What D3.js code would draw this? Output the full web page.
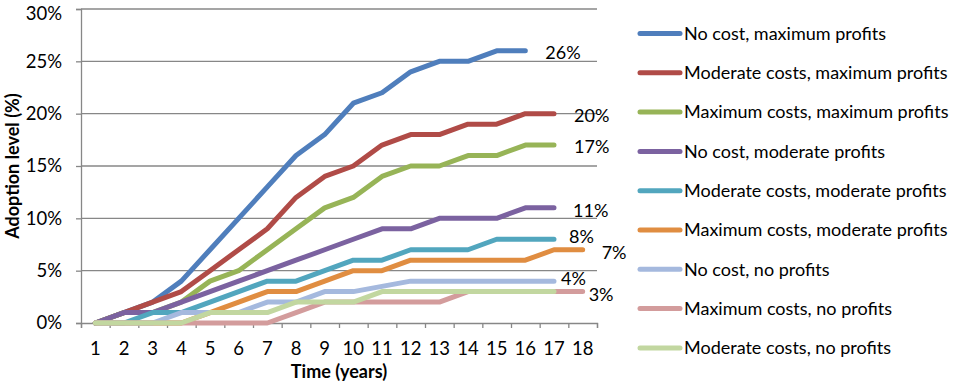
<!DOCTYPE html>
<html>
<head>
<meta charset="utf-8">
<script src="https://cdn.jsdelivr.net/npm/d3@7"></script>
<style>
  html, body { margin: 0; padding: 0; background: #fff; }
  svg { display: block; }
  text { font-family: Lato, "Noto Sans", sans-serif; fill: #000; }
</style>
</head>
<body>
<div id="chart"></div>
<script>
// ---------- data ----------
const years = [1,2,3,4,5,6,7,8,9,10,11,12,13,14,15,16,17,18];
const yTicks = [0, 5, 10, 15, 20, 25, 30];

const seriesNames = [
  "No cost, maximum profits",
  "Moderate costs, maximum profits",
  "Maximum costs, maximum profits",
  "No cost, moderate profits",
  "Moderate costs, moderate profits",
  "Maximum costs, moderate profits",
  "No cost, no profits",
  "Maximum costs, no profits",
  "Moderate costs, no profits"
];

const noCostMaxProfits      = [0,1,2,4,7,10,13,16,18,21,22,24,25,25,26,26];
const modCostMaxProfits     = [0,1,2,3,5,7,9,12,14,15,17,18,18,19,19,20,20];
const maxCostMaxProfits     = [0,1,1,2,4,5,7,9,11,12,14,15,15,16,16,17,17];
const noCostModProfits      = [0,1,1,2,3,4,5,6,7,8,9,9,10,10,10,11,11];
const modCostModProfits     = [0,0,1,1,2,3,4,4,5,6,6,7,7,7,8,8,8];
const maxCostModProfits     = [0,0,0,0,1,2,3,3,4,5,5,6,6,6,6,6,7,7];
const noCostNoProfits       = [0,0,0,1,1,1,2,2,3,3,3.5,4,4,4,4,4,4];
const maxCostNoProfits      = [0,0,0,0,0,0,0,1,2,2,2,2,2,3,3,3,3,3];
const modCostNoProfits      = [0,0,0,0,1,1,1,2,2,2,3,3,3,3,3,3,3];

const seriesValues = [
  noCostMaxProfits, modCostMaxProfits, maxCostMaxProfits,
  noCostModProfits, modCostModProfits, maxCostModProfits,
  noCostNoProfits, maxCostNoProfits, modCostNoProfits
];

const endLabels = ["26%","20%","17%","11%","8%","7%","4%","3%",null];

const colors = ["#4F7EBC","#B04B47","#97B457","#7B62A0","#52A6BE","#E08D41","#A5B9DE","#D39C9C","#C2D7A0"];

// ---------- layout ----------
const W = 957, H = 384;
const mLeft = 81, mRight = 597, mTop = 9, mBottom = 323;

const svg = d3.select("#chart").append("svg").attr("width", W).attr("height", H);

const x = d3.scaleBand().domain(years).range([mLeft, mRight]).padding(0);
const xEdge = d3.scaleLinear().domain([0, years.length]).range([mLeft, mRight]);
const y = d3.scaleLinear().domain([0, 30]).range([mBottom, mTop]);
const cx = d => x(d) + x.bandwidth() / 2;

// gridlines
svg.append("g").selectAll("line").data(yTicks.filter(t => t > 0)).join("line")
  .attr("x1", mLeft).attr("x2", mRight)
  .attr("y1", d => y(d)).attr("y2", d => y(d))
  .attr("stroke", "#878787").attr("stroke-width", 1.3);

// y axis
const yAxis = svg.append("g").attr("transform", `translate(${mLeft},0)`)
  .call(d3.axisLeft(y).tickValues(yTicks).tickSize(5).tickPadding(14).tickFormat(d => d + "%"));
yAxis.select(".domain").attr("stroke", "#878787").attr("stroke-width", 1.3);
yAxis.selectAll(".tick line").attr("stroke", "#878787").attr("stroke-width", 1.3);
yAxis.selectAll("text").style("font-size", "18.5px").attr("fill", "#000");
// keep the top label inside the picture, as in the reference
yAxis.selectAll(".tick").filter(d => d === 30).select("text").attr("dy", "0.55em");

// x axis: tick marks at category edges
const xTickAxis = svg.append("g").attr("transform", `translate(0,${mBottom})`)
  .call(d3.axisBottom(xEdge).tickValues(d3.range(0, years.length + 1)).tickSize(5).tickFormat(""));
xTickAxis.select(".domain").attr("stroke", "#878787").attr("stroke-width", 1.3);
xTickAxis.selectAll(".tick line").attr("stroke", "#878787").attr("stroke-width", 1.3);

// x axis labels at category centres
const xLabAxis = svg.append("g").attr("transform", `translate(0,${mBottom})`)
  .call(d3.axisBottom(x).tickSize(0).tickPadding(19));
xLabAxis.select(".domain").remove();
xLabAxis.selectAll("text").style("font-size", "18.5px").attr("fill", "#000");

// axis titles
svg.append("text").attr("x", (mLeft + mRight) / 2).attr("y", 377.5)
  .attr("text-anchor", "middle").style("font-size", "18px").style("font-weight", "bold")
  .text("Time (years)");
svg.append("text").attr("transform", `translate(19,${(mTop + mBottom) / 2}) rotate(-90)`)
  .attr("text-anchor", "middle").style("font-size", "18px").style("font-weight", "bold")
  .text("Adoption level (%)");

// lines
const line = d3.line().x((d, i) => cx(years[i])).y(d => y(d));
svg.append("g").selectAll("path").data(seriesValues).join("path")
  .attr("d", d => line(d))
  .attr("fill", "none")
  .attr("stroke", (d, i) => colors[i])
  .attr("stroke-width", 5)
  .attr("stroke-linecap", "round")
  .attr("stroke-linejoin", "round");

// end labels (offsets from last point, in px)
const labelOffsets = [[20,2],[20,2],[20,2],[19,3],[15,-3],[19,3],[7,-2],[6,3],[0,0]];
seriesValues.forEach((vals, i) => {
  if (!endLabels[i]) return;
  const n = vals.length - 1;
  svg.append("text")
    .attr("x", cx(years[n]) + labelOffsets[i][0])
    .attr("y", y(vals[n]) + labelOffsets[i][1])
    .attr("dy", "0.35em")
    .style("font-size", "18px")
    .text(endLabels[i]);
});

// legend
const legend = svg.append("g").attr("transform", "translate(638,33.5)");
const rowH = 39.3;
seriesNames.forEach((name, i) => {
  const g = legend.append("g").attr("transform", `translate(0,${i * rowH})`);
  g.append("line").attr("x1", 2).attr("x2", 42).attr("y1", 0).attr("y2", 0)
    .attr("stroke", colors[i]).attr("stroke-width", 5).attr("stroke-linecap", "round");
  g.append("text").attr("x", 46).attr("y", 0).attr("dy", "0.35em")
    .style("font-size", "18px").text(name);
});
</script>
</body>
</html>
